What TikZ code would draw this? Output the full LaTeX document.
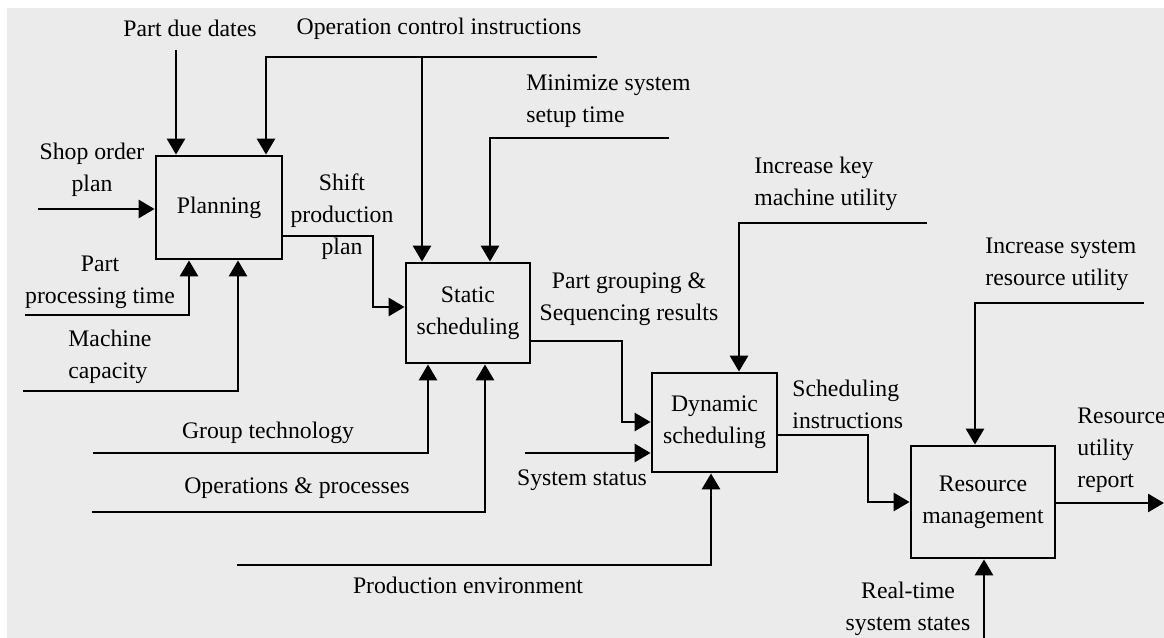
\documentclass[tikz,border=0pt]{standalone}
\usepackage{fontspec}
\setmainfont{Liberation Serif}
\usetikzlibrary{arrows.meta}
\definecolor{bggray}{RGB}{235,235,235}

\begin{document}
\begin{tikzpicture}[x=0.02cm,y=-0.02cm,line width=1.6pt,font=\fontsize{13.5}{18.2}\selectfont,
		>={Triangle[length=0.32cm,width=0.36cm]},
		box/.style={rectangle,draw,inner sep=0pt,align=center},
		lbl/.style={inner sep=0pt,align=center}]
		\useasboundingbox (0,0) rectangle (1164,638);
		\fill[white] (0,0) rectangle (1164,638);
		\fill[bggray] (7,8) rectangle (1164,638);

		\node[box,minimum width=2.52cm,minimum height=2.06cm] (planning) at (219,207.5) {Planning};
		\node[box,minimum width=2.48cm,minimum height=2cm] (static) at (468,313) {Static\\scheduling};
		\node[box,minimum width=2.5cm,minimum height=1.98cm] (dynamic) at (714.5,422.5) {Dynamic\\scheduling};
		\node[box,minimum width=2.88cm,minimum height=2.24cm] (resource) at (983,502) {Resource\\management};

		\node[lbl] (t1) at (190,28) {Part due dates};
		\node[lbl] (t2) at (439,29) {Operation control instructions};
		\node[lbl,anchor=west,align=left] (t3) at (525,101) {Minimize system\\setup time};
		\node[lbl] (t4) at (92,170) {Shop order\\plan};
		\node[lbl] (t5) at (342,217) {Shift\\production\\plan};
		\node[lbl] (t6) at (100,282) {Part\\processing time};
		\node[lbl,anchor=west,align=left] (t7) at (67,357) {Machine\\capacity};
		\node[lbl,anchor=west,align=left] (t8) at (753,184) {Increase key\\machine utility};
		\node[lbl] (t9) at (629,299) {Part grouping \&\\Sequencing results};
		\node[lbl] (t10) at (268,433) {Group technology};
		\node[lbl] (t11) at (297,488) {Operations \& processes};
		\node[lbl] (t12) at (582,480) {System status};
		\node[lbl] (t13) at (468,585) {Production environment};
		\node[lbl,anchor=west,align=left] (t14) at (791,404) {Scheduling\\instructions};
		\node[lbl,anchor=west,align=left] (t15) at (984,264) {Increase system\\resource utility};
		\node[lbl,anchor=west,align=left] (t16) at (1076,450) {Resource\\utility\\report};
		\node[lbl] (t17) at (908,609) {Real-time\\system states};

		\coordinate (sop) at (38,209);
		\coordinate (pdd) at (176,50);
		\coordinate (oci) at (597,57);
		\coordinate (oci1) at (266,57);
		\coordinate (oci2) at (422,57);
		\coordinate (mst) at (669,138);
		\coordinate (mst1) at (490,138);
		\coordinate (spp) at (373,236);
		\coordinate (spp1) at (373,307);
		\coordinate (ppt) at (25,315);
		\coordinate (ppt1) at (189,315);
		\coordinate (mc) at (23,391);
		\coordinate (mc1) at (238,391);
		\coordinate (gt) at (93,453);
		\coordinate (gt1) at (428,453);
		\coordinate (op) at (92,512);
		\coordinate (op1) at (485,512);
		\coordinate (pg) at (622,341);
		\coordinate (pg1) at (622,422);
		\coordinate (ikm) at (927,223);
		\coordinate (ikm1) at (739,223);
		\coordinate (ss) at (525,453);
		\coordinate (pe) at (237,565);
		\coordinate (pe1) at (711,565);
		\coordinate (si) at (868,435);
		\coordinate (si1) at (868,502);
		\coordinate (isr) at (1144,303);
		\coordinate (isr1) at (975,303);
		\coordinate (rur) at (1164,503);
		\coordinate (rts) at (984,640);

		\draw[->] (sop) -- (sop -| planning.west);
		\draw[->] (pdd) -- (pdd |- planning.north);
		\draw[->] (oci) -- (oci1) -- (oci1 |- planning.north);
		\draw[->] (oci2) -- (oci2 |- static.north);
		\draw[->] (mst) -- (mst1) -- (mst1 |- static.north);
		\draw[->] (spp -| planning.east) -- (spp) -- (spp1) -- (spp1 -| static.west);
		\draw[->] (ppt) -- (ppt1) -- (ppt1 |- planning.south);
		\draw[->] (mc) -- (mc1) -- (mc1 |- planning.south);
		\draw[->] (gt) -- (gt1) -- (gt1 |- static.south);
		\draw[->] (op) -- (op1) -- (op1 |- static.south);
		\draw[->] (pg -| static.east) -- (pg) -- (pg1) -- (pg1 -| dynamic.west);
		\draw[->] (ikm) -- (ikm1) -- (ikm1 |- dynamic.north);
		\draw[->] (ss) -- (ss -| dynamic.west);
		\draw[->] (pe) -- (pe1) -- (pe1 |- dynamic.south);
		\draw[->] (si -| dynamic.east) -- (si) -- (si1) -- (si1 -| resource.west);
		\draw[->] (isr) -- (isr1) -- (isr1 |- resource.north);
		\draw[->] (rur -| resource.east) -- (rur);
		\draw[->] (rts) -- (rts |- resource.south);
\end{tikzpicture}
\end{document}
